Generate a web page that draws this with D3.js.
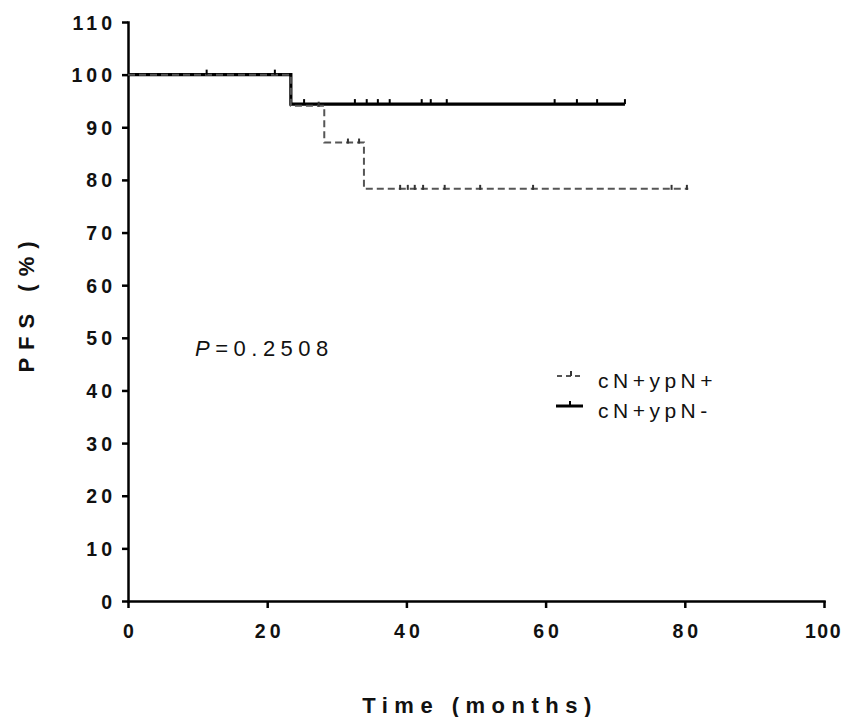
<!DOCTYPE html>
<html>
<head>
<meta charset="utf-8">
<title>PFS Kaplan-Meier</title>
<script src="https://d3js.org/d3.v7.min.js"></script>
<style>
  body { margin: 0; background: #fff; }
  .axis path, .axis line { stroke: #000; stroke-width: 2.5px; }
  .axis text { font-family: "Liberation Sans", Arial, sans-serif; font-size: 19.5px; font-weight: bold; fill: #111; letter-spacing: 4px; }
  .title { font-family: "Liberation Sans", Arial, sans-serif; font-weight: bold; font-size: 22px; fill: #111; }
  .legend text { font-family: "Liberation Sans", Arial, sans-serif; font-size: 21px; fill: #111; letter-spacing: 4.5px; }
</style>
</head>
<body>
<div id="chart"></div>
<script>
// survival step data (time in months, PFS %)
const posTimes = [0, 23.4, 28.2, 33.9, 80.5];
const posSurv = [100, 94.1, 87.1, 78.3, 78.3];
const posCensT = [27.4, 31.6, 33.2, 39.1, 40.2, 41.2, 42.4, 45.5, 50.6, 58.2, 78.1, 80.3];
const posCensS = [94.1, 87.1, 87.1, 78.3, 78.3, 78.3, 78.3, 78.3, 78.3, 78.3, 78.3, 78.3];

const negTimes = [0, 23.4, 71.4];
const negSurv = [100, 94.4, 94.4];
const negCensT = [11.3, 21.1, 25.3, 32.6, 34.3, 35.9, 37.6, 42.2, 43.5, 45.8, 61.3, 64.5, 67.4, 71.4];
const negCensS = [100, 100, 94.4, 94.4, 94.4, 94.4, 94.4, 94.4, 94.4, 94.4, 94.4, 94.4, 94.4, 94.4];

const xTicks = [0, 20, 40, 60, 80, 100];
const yTicks = [0, 10, 20, 30, 40, 50, 60, 70, 80, 90, 100, 110];

const width = 847, height = 717;
const svg = d3.select("#chart").append("svg")
    .attr("width", width)
    .attr("height", height);

const x = d3.scaleLinear().domain([0, 100]).range([128, 824]);
const y = d3.scaleLinear().domain([0, 110]).range([601, 22]);

// axes
const xAxis = svg.append("g")
    .attr("class", "axis")
    .attr("transform", `translate(0,${y(0)})`)
    .call(d3.axisBottom(x).tickValues(xTicks).tickSize(7).tickSizeOuter(0).tickPadding(16));
xAxis.selectAll("text").attr("dx", 2);
// last label sits at the right edge; tighten it so it stays in the frame
xAxis.selectAll("text").filter(d => d === 100)
    .style("letter-spacing", "1.5px")
    .attr("dx", -1);

const yAxis = svg.append("g")
    .attr("class", "axis")
    .attr("transform", `translate(${x(0)},0)`)
    .call(d3.axisLeft(y).tickValues(yTicks).tickSize(6).tickSizeOuter(0).tickPadding(10));
yAxis.selectAll("text").attr("dx", 4).attr("dy", "0.36em");
svg.selectAll(".axis .domain").attr("stroke-linecap", "square");

// axis titles
svg.append("text")
    .attr("class", "title")
    .attr("x", 480)
    .attr("y", 713)
    .attr("text-anchor", "middle")
    .style("letter-spacing", "6.5px")
    .text("Time (months)");

svg.append("text")
    .attr("class", "title")
    .attr("transform", "translate(34,303) rotate(-90)")
    .attr("text-anchor", "middle")
    .style("letter-spacing", "8px")
    .text("PFS (%)");

// curves
const stepLine = d3.line()
    .x(d => x(d[0]))
    .y(d => y(d[1]))
    .curve(d3.curveStepAfter);

const posPts = posTimes.map((t, i) => [t, posSurv[i]]);
const negPts = negTimes.map((t, i) => [t, negSurv[i]]);

svg.append("path")
    .datum(negPts)
    .attr("d", stepLine)
    .attr("fill", "none")
    .attr("stroke", "#000")
    .attr("stroke-width", 3.2);

svg.append("path")
    .datum(posPts)
    .attr("d", stepLine)
    .attr("fill", "none")
    .attr("stroke", "#555")
    .attr("stroke-width", 2)
    .attr("stroke-dasharray", "7,4");

// censor marks
svg.append("g").selectAll("line")
    .data(negCensT.map((t, i) => [t, negCensS[i]]))
    .enter().append("line")
    .attr("x1", d => x(d[0])).attr("x2", d => x(d[0]))
    .attr("y1", d => y(d[1])).attr("y2", d => y(d[1]) - 5)
    .attr("stroke", "#000").attr("stroke-width", 2);

svg.append("g").selectAll("line")
    .data(posCensT.map((t, i) => [t, posCensS[i]]))
    .enter().append("line")
    .attr("x1", d => x(d[0])).attr("x2", d => x(d[0]))
    .attr("y1", d => y(d[1]) + 1).attr("y2", d => y(d[1]) - 4)
    .attr("stroke", "#333").attr("stroke-width", 2);

// p value
const pText = svg.append("text")
    .attr("x", 195)
    .attr("y", 356)
    .style("font-family", "Liberation Sans, Arial, sans-serif")
    .style("font-size", "22px")
    .style("fill", "#111")
    .style("letter-spacing", "5.5px");
pText.append("tspan").style("font-style", "italic").text("P");
pText.append("tspan").text("=0.2508");

// legend
const legend = svg.append("g").attr("class", "legend");
legend.append("line")
    .attr("x1", 557).attr("x2", 583).attr("y1", 376).attr("y2", 376)
    .attr("stroke", "#555").attr("stroke-width", 2).attr("stroke-dasharray", "5,4");
legend.append("line")
    .attr("x1", 571).attr("x2", 571).attr("y1", 376).attr("y2", 371)
    .attr("stroke", "#333").attr("stroke-width", 2);
legend.append("text").attr("x", 598).attr("y", 388).text("cN+ypN+");

legend.append("line")
    .attr("x1", 556).attr("x2", 583).attr("y1", 406).attr("y2", 406)
    .attr("stroke", "#000").attr("stroke-width", 3);
legend.append("line")
    .attr("x1", 570).attr("x2", 570).attr("y1", 406).attr("y2", 401)
    .attr("stroke", "#000").attr("stroke-width", 2);
legend.append("text").attr("x", 598).attr("y", 418).text("cN+ypN-");
</script>
</body>
</html>
